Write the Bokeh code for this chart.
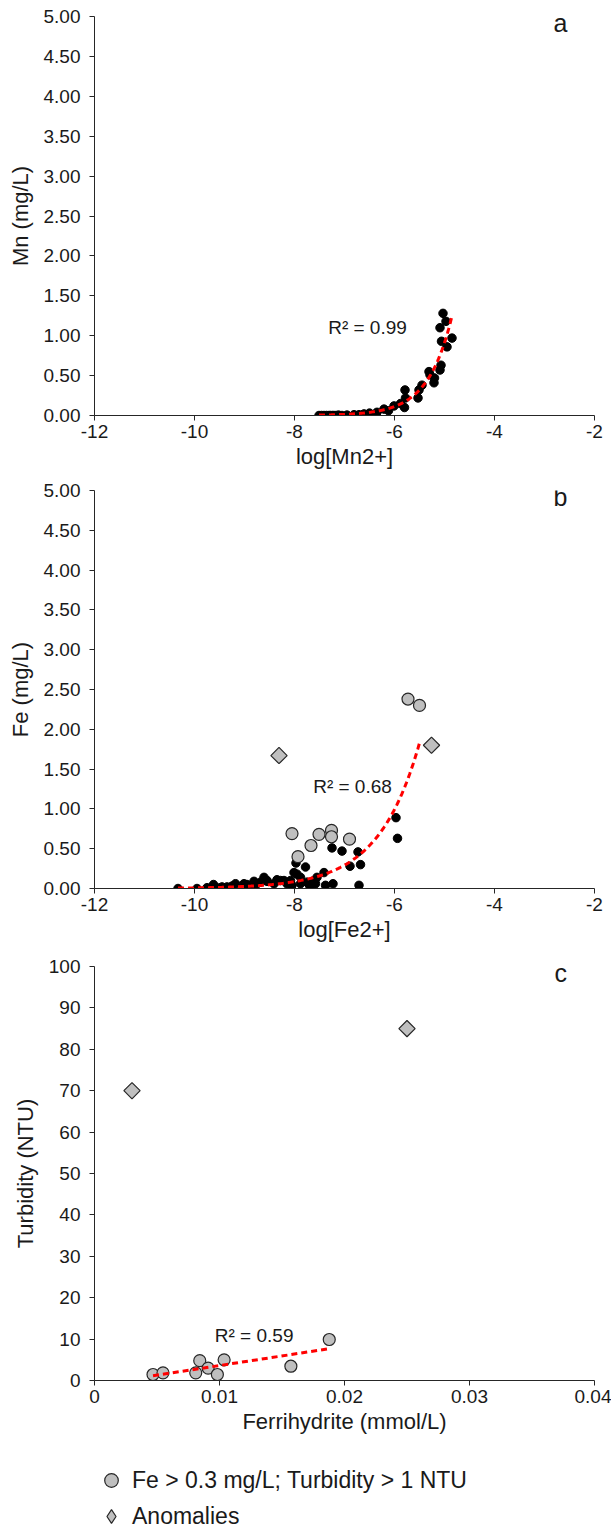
import numpy as np
from bokeh.plotting import figure
from bokeh.layouts import column
from bokeh.models import Range1d, FixedTicker, PrintfTickFormatter, Label, Legend, LegendItem
from bokeh.embed import file_html
from bokeh.resources import INLINE

# ---------------- data ----------------
# Panel a: Mn vs log[Mn2+]
mn_log = [-7.51, -7.46, -7.41, -7.36, -7.31, -7.28, -7.24, -7.21, -7.17, -7.12, -7.05,
          -6.95, -6.81, -6.71, -6.61, -6.50, -6.35, -6.21, -6.12, -6.01, -5.88, -5.80,
          -5.79, -5.78, -5.53, -5.51, -5.45, -5.31, -5.29, -5.21, -5.20, -5.09, -5.07,
          -5.06, -4.95, -4.85, -5.09, -4.97, -5.03]
mn_mgL = [0.00, 0.00, 0.00, 0.00, 0.00, 0.00, 0.00, 0.00, 0.00, 0.005, 0.00,
          0.005, 0.01, 0.01, 0.02, 0.03, 0.04, 0.08, 0.06, 0.12, 0.15, 0.10,
          0.32, 0.22, 0.22, 0.32, 0.38, 0.55, 0.51, 0.41, 0.47, 0.57, 0.63,
          0.93, 0.86, 0.97, 1.10, 1.18, 1.28]
mn_trend_a = 3.15e4      # exponential trendline y = a*exp(b*x)
mn_trend_b = 2.09
mn_r2 = "R² = 0.99"

# Panel b: Fe vs log[Fe2+]
fe_log = [-10.33, -9.95, -9.75, -9.62, -9.55, -9.35, -9.18, -9.01, -8.88, -8.81, -8.61,
          -8.55, -8.41, -8.28, -8.15, -8.05, -7.95, -7.97, -7.78, -7.88, -7.70, -7.61,
          -7.55, -7.41, -7.38, -7.23, -7.25, -7.05, -6.73, -6.89, -6.68, -6.71, -5.97,
          -5.94, -8.01, -7.88, -7.75, -7.68, -7.58, -8.08, -8.21, -8.35, -8.55, -8.68,
          -8.78, -9.25, -9.45, -8.95]
fe_mgL = [0.00, 0.00, 0.01, 0.05, 0.01, 0.02, 0.06, 0.06, 0.01, 0.09, 0.14,
          0.10, 0.06, 0.10, 0.06, 0.04, 0.18, 0.32, 0.27, 0.06, 0.04, 0.10,
          0.14, 0.20, 0.04, 0.06, 0.51, 0.47, 0.46, 0.28, 0.30, 0.04, 0.89,
          0.63, 0.20, 0.14, 0.08, 0.04, 0.06, 0.10, 0.10, 0.11, 0.09, 0.08,
          0.04, 0.03, 0.02, 0.05]
fe_hi_log = [-5.73, -5.50, -8.05, -7.51, -7.26, -7.26, -6.90, -7.67, -7.93]
fe_hi_mgL = [2.38, 2.30, 0.69, 0.68, 0.73, 0.65, 0.62, 0.54, 0.40]
fe_anom_log = [-8.31, -5.26]
fe_anom_mgL = [1.67, 1.80]
fe_trend_a = 1.5e3
fe_trend_b = 1.22
fe_r2 = "R² = 0.68"

# Panel c: Turbidity vs Ferrihydrite
ferri = [0.00468, 0.00548, 0.00810, 0.00842, 0.00909, 0.00983, 0.01037, 0.01571, 0.01878]
turb = [1.45, 1.85, 1.85, 4.8, 3.0, 1.45, 5.0, 3.45, 9.9]
ferri_anom = [0.0030, 0.0250]
turb_anom = [70, 85]
turb_r2 = "R² = 0.59"

ab_xticks = [-12, -10, -8, -6, -4, -2]
ab_xlabels = ["-12", "-10", "-8", "-6", "-4", "-2"]
ab_yticks = [0, 0.5, 1, 1.5, 2, 2.5, 3, 3.5, 4, 4.5, 5]
c_xticks = [0, 0.01, 0.02, 0.03, 0.04]
c_xlabels = ["0", "0.01", "0.02", "0.03", "0.04"]
c_yticks = [0, 10, 20, 30, 40, 50, 60, 70, 80, 90, 100]

legend_labels = ["Fe > 0.3 mg/L; Turbidity > 1 NTU", "Anomalies"]

# ---------------- style ----------------
FONT = "Liberation Sans"
TXT = "#1a1a1a"
AXC = "#262626"
GRAY = "#bfbfbf"
EDGE = "#262626"


def make_fig(frame_h, top, bottom, xr, yr, xticks, yticks, xlabel, ylabel):
    p = figure(frame_width=500, frame_height=frame_h, min_border_left=94,
               min_border_right=17, min_border_top=top, min_border_bottom=bottom,
               x_range=Range1d(*xr), y_range=Range1d(*yr),
               output_backend="svg", toolbar_location=None)
    p.grid.visible = False
    p.outline_line_color = None
    for ax in (p.xaxis[0], p.yaxis[0]):
        ax.axis_line_color = AXC
        ax.axis_line_width = 1
        ax.major_tick_line_color = AXC
        ax.major_tick_in = 0
        ax.major_tick_out = 5
        ax.minor_tick_line_color = None
        ax.major_label_text_font = FONT
        ax.major_label_text_font_size = "19px"
        ax.major_label_text_color = TXT
        ax.axis_label_text_font = FONT
        ax.axis_label_text_font_size = "22px"
        ax.axis_label_text_font_style = "normal"
        ax.axis_label_text_color = TXT
    p.xaxis[0].ticker = FixedTicker(ticks=xticks)
    p.yaxis[0].ticker = FixedTicker(ticks=yticks)
    p.xaxis[0].axis_label = xlabel
    p.yaxis[0].axis_label = ylabel
    p.xaxis[0].major_label_standoff = 4
    p.xaxis[0].axis_label_standoff = 3
    p.yaxis[0].major_label_standoff = 9
    p.yaxis[0].axis_label_standoff = 8
    return p


def add_text(p, x, y, text, size, align="center"):
    p.add_layout(Label(x=x, y=y, text=text, text_font=FONT, text_font_size=size,
                       text_color=TXT, text_align=align, text_baseline="middle"))


# ---------------- panel a ----------------
pa = make_fig(399, 16, 63, (-12, -2), (0, 5), ab_xticks, ab_yticks, "log[Mn2+]", "Mn (mg/L)")
pa.yaxis[0].formatter = PrintfTickFormatter(format="%.2f")
pa.xaxis[0].major_label_overrides = {t: l for t, l in zip(ab_xticks, ab_xlabels)}
pa.scatter(mn_log, mn_mgL, size=8.5, fill_color="black", line_color="black")
xa = np.linspace(min(mn_log), max(mn_log), 120)
pa.line(xa, mn_trend_a * np.exp(mn_trend_b * xa), line_color="red", line_width=3,
        line_dash="6 4")
add_text(pa, -6.54, 1.10, mn_r2, "19px")
add_text(pa, -2.54, 4.92, "a", "25px", align="right")

# ---------------- panel b ----------------
pb = make_fig(398, 12, 66, (-12, -2), (0, 5), ab_xticks, ab_yticks, "log[Fe2+]", "Fe (mg/L)")
pb.yaxis[0].formatter = PrintfTickFormatter(format="%.2f")
pb.xaxis[0].major_label_overrides = {t: l for t, l in zip(ab_xticks, ab_xlabels)}
pb.scatter(fe_log, fe_mgL, size=8.5, fill_color="black", line_color="black")
pb.scatter(fe_hi_log, fe_hi_mgL, size=12, fill_color=GRAY, line_color=EDGE, line_width=1.2)
pb.scatter(fe_anom_log, fe_anom_mgL, marker="square", angle=np.pi / 4, size=11.5,
           fill_color=GRAY, line_color=EDGE, line_width=1.2)
all_fe_x = fe_log + fe_hi_log
xb = np.linspace(min(all_fe_x), max(all_fe_x), 150)
pb.line(xb, fe_trend_a * np.exp(fe_trend_b * xb), line_color="red", line_width=3,
        line_dash="6 4")
add_text(pb, -6.84, 1.28, fe_r2, "19px")
add_text(pb, -2.54, 4.92, "b", "25px", align="right")

# ---------------- panel c ----------------
pc = make_fig(414, 12, 76, (0, 0.04), (0, 100), c_xticks, c_yticks, "Ferrihydrite (mmol/L)",
              "Turbidity (NTU)")
pc.xaxis[0].major_label_overrides = {t: l for t, l in zip(c_xticks, c_xlabels)}
pc.scatter(ferri, turb, size=12, fill_color=GRAY, line_color=EDGE, line_width=1.2)
pc.scatter(ferri_anom, turb_anom, marker="square", angle=np.pi / 4, size=11.5,
           fill_color=GRAY, line_color=EDGE, line_width=1.2)
slope, icpt = np.polyfit(ferri, turb, 1)
xc = np.array([min(ferri), max(ferri)])
pc.line(xc, slope * xc + icpt, line_color="red", line_width=3, line_dash="6 4")
add_text(pc, 0.01277, 10.9, turb_r2, "19px")
add_text(pc, 0.0378, 98.5, "c", "25px", align="right")

# ---------------- legend (own strip below panel c) ----------------
# the two series of panel c are re-drawn here outside the visible range,
# only so that the legend has glyphs to show (legend swatches ignore angle,
# so the diamond swatch uses the diamond marker)
pl = figure(frame_width=500, frame_height=74, min_border_left=94, min_border_right=17,
            min_border_top=6, min_border_bottom=0, x_axis_type=None, y_axis_type=None,
            x_range=Range1d(0, 0.04), y_range=Range1d(200, 300),
            output_backend="svg", toolbar_location=None)
pl.outline_line_color = None
lg_circ = pl.scatter(ferri, turb, size=12, fill_color=GRAY, line_color=EDGE, line_width=1.2)
lg_dia = pl.scatter(ferri_anom, turb_anom, marker="diamond", size=16,
                    fill_color=GRAY, line_color=EDGE, line_width=1.2)
legend = Legend(items=[LegendItem(label=legend_labels[0], renderers=[lg_circ]),
                       LegendItem(label=legend_labels[1], renderers=[lg_dia])],
                location="top_left", orientation="vertical", margin=0, padding=1,
                border_line_color=None, background_fill_alpha=0,
                glyph_width=34, glyph_height=34, label_height=36, spacing=0,
                label_standoff=4, label_text_font=FONT, label_text_font_size="23px",
                label_text_color=TXT)
pl.add_layout(legend)

layout = column(pa, pb, pc, pl, spacing=0)
open("out.html", "w").write(file_html(layout, INLINE))
